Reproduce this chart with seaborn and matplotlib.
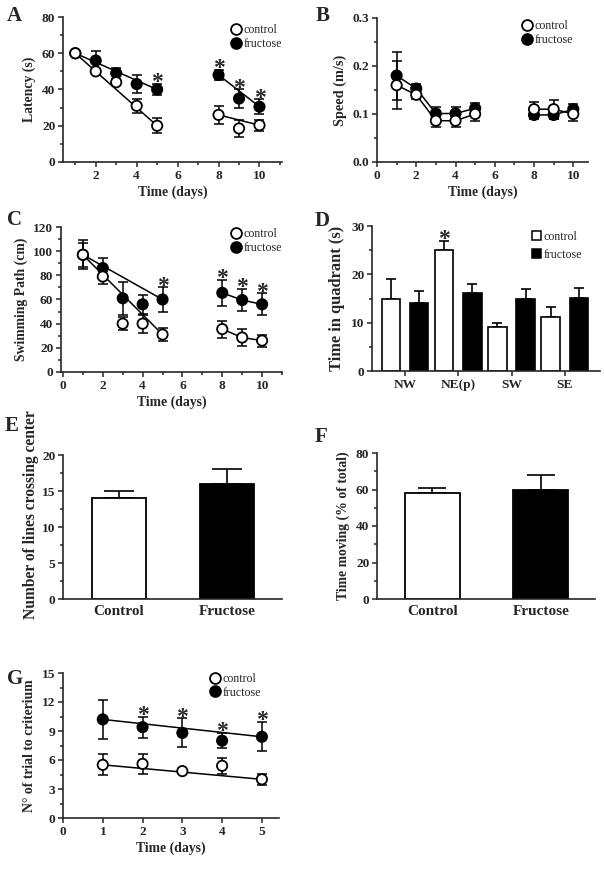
import numpy as np
import pandas as pd
import matplotlib
matplotlib.use('Agg')
import matplotlib.pyplot as plt
import seaborn as sns
from matplotlib.lines import Line2D
from matplotlib.patches import Patch
from matplotlib.ticker import MultipleLocator

# ---------------- data ----------------
days_ab = [1, 2, 3, 4, 5, 8, 9, 10]
lat_ctrl = [60, 50, 44, 31, 20, 26, 18.5, 20.3]
lat_ctrl_err = [0, 1.5, 1.5, 4, 4, 5, 4.5, 3]
lat_fru = [60, 56, 49, 43, 40, 48, 35, 30.5]
lat_fru_err = [0, 5, 3, 5, 3, 3, 5, 4]
lat_sig = [5, 8, 9, 10]

spd_ctrl = [0.16, 0.14, 0.086, 0.086, 0.10, 0.11, 0.11, 0.10]
spd_ctrl_err = [0.05, 0.008, 0.014, 0.014, 0.014, 0.016, 0.02, 0.015]
spd_fru = [0.18, 0.153, 0.101, 0.101, 0.112, 0.098, 0.098, 0.11]
spd_fru_err = [0.05, 0.01, 0.013, 0.013, 0.01, 0.009, 0.009, 0.011]

path_ctrl = [97, 79, 40, 40, 31, 35.5, 28.5, 26]
path_ctrl_err = [10, 6, 5.5, 7.5, 5, 7, 7, 5]
path_fru = [97, 86, 61, 56, 60, 65.5, 59.5, 56]
path_fru_err = [12, 8, 13.5, 8, 10, 11, 9, 9]
path_sig = [5, 8, 9, 10]

quadrants = ['NW', 'NE(p)', 'SW', 'SE']
quad_ctrl = [15, 25, 9.2, 11.1]
quad_ctrl_err = [4, 2, 0.8, 2.1]
quad_fru = [14.1, 16.1, 15, 15.2]
quad_fru_err = [2.4, 2, 2, 1.9]
quad_sig = ['NE(p)']

groups = ['Control', 'Fructose']
lines_cross = [14, 16]
lines_cross_err = [1, 2]
time_moving = [58, 59.5]
time_moving_err = [3, 8.5]

days_g = [1, 2, 3, 4, 5]
trial_ctrl = [5.5, 5.6, 4.85, 5.4, 4.0]
trial_ctrl_err = [1.1, 1.0, 0.1, 0.8, 0.6]
trial_fru = [10.2, 9.4, 8.8, 8.0, 8.4]
trial_fru_err = [2.0, 1.1, 1.5, 0.8, 1.5]
trial_sig = [2, 3, 4, 5]

# ---------------- style ----------------
sns.set_style('ticks')
plt.rcParams['font.family'] = ['Liberation Serif', 'DejaVu Serif']
plt.rcParams['axes.linewidth'] = 1.2
plt.rcParams['xtick.major.width'] = 1.1
plt.rcParams['ytick.major.width'] = 1.1
plt.rcParams['xtick.minor.width'] = 1.1
plt.rcParams['ytick.minor.width'] = 1.1
plt.rcParams['xtick.major.size'] = 3.5
plt.rcParams['ytick.major.size'] = 3.5
plt.rcParams['xtick.minor.size'] = 2.5
plt.rcParams['ytick.minor.size'] = 2.5

W, H = 604, 871
fig = plt.figure(figsize=(W / 100, H / 100), dpi=100)


def add_ax(left, top, right, bottom):
    return fig.add_axes([left / W, 1 - bottom / H, (right - left) / W, (bottom - top) / H])


TICK_FS = 9.6
LAB_FS = 9.9
STAR_FS = 17
PAL = {'control': 'white', 'fructose': 'black'}


def style_ax(ax, xlabel, ylabel, ylab_fs=LAB_FS):
    sns.despine(ax=ax)
    ax.set_xlabel(xlabel, fontsize=LAB_FS, fontweight='bold', labelpad=3)
    ax.set_ylabel(ylabel, fontsize=ylab_fs, fontweight='bold', labelpad=4)
    for lab in ax.get_xticklabels() + ax.get_yticklabels():
        lab.set_fontweight('bold')
        lab.set_fontsize(TICK_FS)
    ax.tick_params(which='both', direction='out', pad=2)


def long_df(days, ctrl, ctrl_err, fru, fru_err):
    n = len(days)
    df = pd.DataFrame({'day': list(days) * 2,
                       'value': list(ctrl) + list(fru),
                       'err': list(ctrl_err) + list(fru_err),
                       'group': ['control'] * n + ['fructose'] * n})
    df['block'] = np.where(df['day'] <= 5, 1, 2)
    return df


def line_panel(ax, df, modes, sig_days, star_off=-3):
    for (g, b), sub in df.groupby(['group', 'block']):
        sub = sub.sort_values('day')
        if modes[b] == 'ends':
            sub = sub.iloc[[0, -1]]
        sns.lineplot(data=sub, x='day', y='value', ax=ax, color='black',
                     linewidth=1.1, legend=False, errorbar=None, zorder=1)
    ax.errorbar(df['day'], df['value'], yerr=df['err'], fmt='none',
                ecolor='black', elinewidth=1.1, capsize=3.6, capthick=1.1, zorder=2)
    order = df.sort_values('group', ascending=False)
    sns.scatterplot(data=order, x='day', y='value', hue='group', palette=PAL,
                    edgecolor='black', linewidth=1.3, s=55, legend=False,
                    ax=ax, zorder=3)
    fr = df[df['group'] == 'fructose']
    for d in sig_days:
        r = fr[fr['day'] == d].iloc[0]
        ax.annotate('*', (d, r['value'] + r['err']), xytext=(0, star_off),
                    textcoords='offset points', ha='center', va='baseline',
                    fontsize=STAR_FS, fontweight='bold')


def circle_legend(ax, anchor, spacing=0.15):
    handles = [Line2D([], [], marker='o', linestyle='none', markerfacecolor='white',
                      markeredgecolor='black', markeredgewidth=1.3, markersize=7.8),
               Line2D([], [], marker='o', linestyle='none', markerfacecolor='black',
                      markeredgecolor='black', markeredgewidth=1.3, markersize=7.8)]
    ax.legend(handles, ['control', 'fructose'], loc='upper left', bbox_to_anchor=anchor,
              frameon=False, fontsize=8.6, handlelength=0.8, handletextpad=0.2,
              borderpad=0, borderaxespad=0, labelspacing=spacing)


def bar_errors(ax, errs, capsize):
    pats = sorted(ax.patches, key=lambda p: p.get_x())
    for p, e in zip(pats, errs):
        x = p.get_x() + p.get_width() / 2
        h = p.get_height()
        ax.errorbar([x], [h], yerr=[[0], [e]], fmt='none', ecolor='black',
                    elinewidth=1.2, capsize=capsize, capthick=1.2, zorder=0.5)


# ---------------- A ----------------
axA = add_ax(63, 17, 282, 162)
dfA = long_df(days_ab, lat_ctrl, lat_ctrl_err, lat_fru, lat_fru_err)
line_panel(axA, dfA, {1: 'ends', 2: 'ends'}, lat_sig)
axA.set_xlim(0.4, 11.1)
axA.set_ylim(0, 80)
axA.xaxis.set_major_locator(MultipleLocator(2))
axA.xaxis.set_minor_locator(MultipleLocator(1))
axA.yaxis.set_major_locator(MultipleLocator(20))
axA.yaxis.set_minor_locator(MultipleLocator(10))
style_ax(axA, 'Time (days)', 'Latency (s)')
circle_legend(axA, (0.77, 0.95))

# ---------------- B ----------------
axB = add_ax(377, 18, 588, 162)
dfB = long_df(days_ab, spd_ctrl, spd_ctrl_err, spd_fru, spd_fru_err)
line_panel(axB, dfB, {1: 'all', 2: 'all'}, [])
axB.set_xlim(0, 10.75)
axB.set_ylim(0, 0.3)
axB.xaxis.set_major_locator(MultipleLocator(2))
axB.xaxis.set_minor_locator(MultipleLocator(1))
axB.yaxis.set_major_locator(MultipleLocator(0.1))
axB.yaxis.set_minor_locator(MultipleLocator(0.05))
axB.yaxis.set_major_formatter(matplotlib.ticker.FormatStrFormatter('%.1f'))
style_ax(axB, 'Time (days)', 'Speed (m/s)', 10.3)
circle_legend(axB, (0.69, 0.985))

# ---------------- C ----------------
axC = add_ax(61, 227, 282, 372)
dfC = long_df(days_ab, path_ctrl, path_ctrl_err, path_fru, path_fru_err)
line_panel(axC, dfC, {1: 'ends', 2: 'all'}, path_sig)
axC.set_xlim(-0.1, 11)
axC.set_ylim(0, 120)
axC.xaxis.set_major_locator(MultipleLocator(2))
axC.xaxis.set_minor_locator(MultipleLocator(1))
axC.yaxis.set_major_locator(MultipleLocator(20))
axC.yaxis.set_minor_locator(MultipleLocator(10))
style_ax(axC, 'Time (days)', 'Swimming Path (cm)')
circle_legend(axC, (0.772, 0.99))

# ---------------- D ----------------
axD = add_ax(372, 226, 600, 371)
dfD = pd.DataFrame({'quadrant': quadrants * 2,
                    'value': quad_ctrl + quad_fru,
                    'group': ['control'] * 4 + ['fructose'] * 4})
sns.barplot(data=dfD, x='quadrant', y='value', hue='group', order=quadrants,
            hue_order=['control', 'fructose'], palette=PAL, edgecolor='black',
            linewidth=1.2, width=1.06, gap=0.34, errorbar=None, legend=False, ax=axD)
errsD = []
for c, f in zip(quad_ctrl_err, quad_fru_err):
    errsD += [c, f]
bar_errors(axD, errsD, 3.8)
for q in quad_sig:
    i = quadrants.index(q)
    axD.annotate('*', (i - 0.265, quad_ctrl[i] + quad_ctrl_err[i]), xytext=(0, -3),
                 textcoords='offset points', ha='center', va='baseline',
                 fontsize=STAR_FS, fontweight='bold')
axD.set_xlim(-0.62, 3.66)
axD.set_ylim(0, 30)
axD.yaxis.set_major_locator(MultipleLocator(10))
axD.yaxis.set_minor_locator(MultipleLocator(5))
style_ax(axD, '', 'Time in quadrant (s)', 11.8)
axD.legend([Patch(facecolor='white', edgecolor='black', linewidth=1.1),
            Patch(facecolor='black', edgecolor='black', linewidth=1.1)],
           ['control', 'fructose'], loc='upper left', bbox_to_anchor=(0.70, 0.965),
           frameon=False, fontsize=8.6, handlelength=0.8, handleheight=0.8,
           handletextpad=0.2, borderpad=0, borderaxespad=0, labelspacing=0.5)

# ---------------- E ----------------
axE = add_ax(63, 455, 282, 599)
dfE = pd.DataFrame({'group': groups, 'value': lines_cross})
sns.barplot(data=dfE, x='group', y='value', hue='group', order=groups,
            palette=['white', 'black'], edgecolor='black', linewidth=1.3,
            width=0.5, errorbar=None, legend=False, ax=axE)
bar_errors(axE, lines_cross_err, 10.5)
axE.set_xlim(-0.52, 1.51)
axE.set_ylim(0, 20)
axE.yaxis.set_major_locator(MultipleLocator(5))
axE.yaxis.set_minor_locator(MultipleLocator(2.5))
style_ax(axE, '', 'Number of lines crossing center', 11.2)
axE.yaxis.set_label_coords(-0.11, 0.585)
axE.tick_params(axis='x', length=0, pad=4)
for lab in axE.get_xticklabels():
    lab.set_fontsize(11)

# ---------------- F ----------------
axF = add_ax(377, 453, 595, 599)
dfF = pd.DataFrame({'group': groups, 'value': time_moving})
sns.barplot(data=dfF, x='group', y='value', hue='group', order=groups,
            palette=['white', 'black'], edgecolor='black', linewidth=1.3,
            width=0.51, errorbar=None, legend=False, ax=axF)
bar_errors(axF, time_moving_err, 10.0)
axF.set_xlim(-0.51, 1.5)
axF.set_ylim(0, 80)
axF.yaxis.set_major_locator(MultipleLocator(20))
axF.yaxis.set_minor_locator(MultipleLocator(10))
style_ax(axF, '', 'Time moving (% of total)')
axF.tick_params(axis='x', length=0, pad=4)
for lab in axF.get_xticklabels():
    lab.set_fontsize(11)

# ---------------- G ----------------
axG = add_ax(63, 673, 279, 818)
dfG = long_df(days_g, trial_ctrl, trial_ctrl_err, trial_fru, trial_fru_err)
line_panel(axG, dfG, {1: 'ends', 2: 'ends'}, trial_sig)
axG.set_xlim(0, 5.43)
axG.set_ylim(0, 15)
axG.xaxis.set_major_locator(MultipleLocator(1))
axG.yaxis.set_major_locator(MultipleLocator(3))
axG.yaxis.set_minor_locator(MultipleLocator(1.5))
style_ax(axG, 'Time (days)', 'N° of trial to criterium')
circle_legend(axG, (0.683, 0.997), spacing=0.1)

# ---------------- panel letters ----------------
for letter, x, y in [('A', 14, 16), ('B', 323, 16), ('C', 14, 220), ('D', 322, 221),
                     ('E', 12, 426), ('F', 321, 437), ('G', 15, 679)]:
    fig.text(x / W, 1 - y / H, letter, ha='center', va='center',
             fontsize=15, fontweight='bold')

fig.savefig('out.png', dpi=100)
